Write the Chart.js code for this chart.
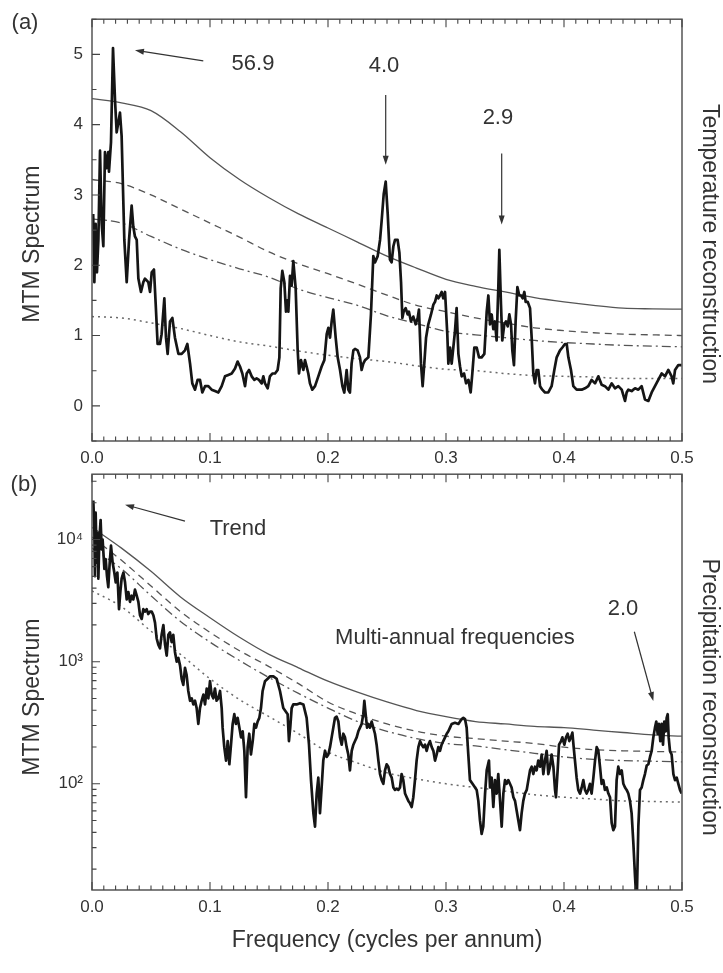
<!DOCTYPE html>
<html>
<head>
<meta charset="utf-8">
<title>MTM spectra</title>
<script src="https://cdn.jsdelivr.net/npm/chart.js@4.4.1/dist/chart.umd.min.js"></script>
<style>
  html, body { margin: 0; padding: 0; background: #fff; }
  #wrap { position: relative; width: 723px; height: 973px; }
  canvas { position: absolute; left: 0; }
  #tempCanvas { top: 0; }
  #precipCanvas { top: 455px; }
</style>
</head>
<body>
<div id="wrap">
  <canvas id="tempCanvas" width="723" height="475"></canvas>
  <canvas id="precipCanvas" width="723" height="518"></canvas>
</div>
<script>
// tick labels
const freqTicks = [0, 0.1, 0.2, 0.3, 0.4, 0.5];
const freqTickLabels = ['0.0', '0.1', '0.2', '0.3', '0.4', '0.5'];
const tempTicks = [0, 1, 2, 3, 4, 5];
const tempTickLabels = ['0', '1', '2', '3', '4', '5'];
const precipTicks = [100, 1000, 10000];
const precipTickLabels = ['10²', '10³', '10⁴'];

// (a) temperature reconstruction: [frequency, MTM spectrum]
const tempSpectrum = [
  [0.001,2.73],[0.002,1.76],[0.0031,2.59],[0.0042,1.90],[0.0054,2.36],[0.0068,3.63],[0.0082,2.59],[0.0096,2.27],
  [0.011,3.61],[0.0124,3.38],[0.0138,3.61],[0.0144,3.33],[0.0161,3.75],[0.0178,5.09],[0.0195,4.35],[0.0209,3.89],
  [0.0223,4.03],[0.0237,4.17],[0.0251,3.84],[0.0274,2.36],[0.0294,1.76],[0.0314,2.36],[0.0336,2.85],[0.035,2.55],
  [0.0364,2.41],[0.0379,2.36],[0.0393,1.81],[0.0415,1.62],[0.0435,1.76],[0.0449,1.81],[0.0477,1.76],[0.0492,1.62],
  [0.0506,1.90],[0.0525,1.94],[0.054,1.44],[0.0556,0.88],[0.0576,0.88],[0.059,1.02],[0.0613,1.53],[0.0627,0.97],
  [0.0641,0.74],[0.0661,1.20],[0.0681,1.25],[0.0703,0.97],[0.0732,0.74],[0.076,0.74],[0.0788,0.79],[0.0808,0.88],
  [0.0831,0.60],[0.085,0.32],[0.0873,0.23],[0.0895,0.37],[0.0915,0.37],[0.0935,0.19],[0.0958,0.28],[0.0986,0.28],
  [0.1014,0.23],[0.1042,0.21],[0.1071,0.19],[0.1099,0.28],[0.1127,0.42],[0.1155,0.44],[0.1184,0.46],[0.1212,0.53],
  [0.1234,0.63],[0.1254,0.56],[0.1274,0.46],[0.1297,0.28],[0.1311,0.46],[0.1331,0.51],[0.1353,0.42],[0.1376,0.37],
  [0.1395,0.39],[0.1415,0.37],[0.1438,0.32],[0.1452,0.42],[0.1466,0.32],[0.1489,0.25],[0.1508,0.42],[0.1528,0.46],
  [0.1551,0.46],[0.1573,0.51],[0.1588,0.69],[0.1599,1.67],[0.1613,1.92],[0.163,1.76],[0.1644,1.34],[0.1655,1.50],
  [0.1664,1.34],[0.1678,1.85],[0.1692,1.71],[0.1706,2.06],[0.1726,1.67],[0.1743,0.79],[0.1754,0.46],[0.1771,0.65],
  [0.1791,0.51],[0.1805,0.65],[0.1819,0.56],[0.1833,0.46],[0.1847,0.32],[0.1867,0.23],[0.189,0.28],[0.1918,0.42],
  [0.1946,0.56],[0.1969,0.65],[0.1989,1.02],[0.2003,1.11],[0.2017,0.97],[0.2031,1.20],[0.2045,1.37],[0.2065,0.97],
  [0.2082,0.69],[0.2102,0.51],[0.2122,0.28],[0.2138,0.19],[0.2158,0.51],[0.2172,0.23],[0.2186,0.19],[0.22,0.60],
  [0.2215,0.79],[0.2229,0.81],[0.2251,0.79],[0.2271,0.69],[0.2285,0.51],[0.2299,0.60],[0.2314,0.65],[0.2342,0.69],
  [0.2364,1.30],[0.2384,2.13],[0.2398,2.04],[0.2421,2.13],[0.2441,2.36],[0.2455,2.64],[0.2472,3.01],[0.2489,3.19],
  [0.2506,2.73],[0.2525,2.08],[0.2539,2.04],[0.2554,2.27],[0.2568,2.36],[0.259,2.36],[0.2605,2.18],[0.2619,1.76],
  [0.263,1.25],[0.2641,1.34],[0.2658,1.39],[0.2675,1.30],[0.2686,1.34],[0.2703,1.20],[0.2723,1.27],[0.2743,1.16],
  [0.276,1.25],[0.2771,1.37],[0.2788,0.60],[0.2802,0.28],[0.2816,0.60],[0.2831,0.97],[0.285,1.16],[0.2873,1.30],
  [0.2893,1.44],[0.2907,1.48],[0.2921,1.57],[0.2935,1.53],[0.2949,1.57],[0.2963,1.62],[0.2977,1.53],[0.2992,1.62],
  [0.3011,1.02],[0.302,0.60],[0.3034,0.83],[0.3048,0.60],[0.3062,0.83],[0.3076,1.06],[0.309,1.39],[0.3105,0.74],
  [0.3119,0.56],[0.3133,0.42],[0.3153,0.46],[0.317,0.32],[0.319,0.37],[0.3209,0.19],[0.3223,0.46],[0.324,0.83],
  [0.326,0.83],[0.328,0.69],[0.3302,0.69],[0.3325,0.74],[0.3345,1.34],[0.3359,1.57],[0.3373,1.16],[0.3387,1.30],
  [0.3401,1.09],[0.3415,1.20],[0.3429,0.93],[0.3443,1.67],[0.3452,2.22],[0.3466,1.44],[0.3477,0.93],[0.3494,1.16],
  [0.3508,1.20],[0.3523,1.13],[0.3537,1.30],[0.3551,1.16],[0.3562,0.79],[0.3576,0.58],[0.359,1.20],[0.3605,1.69],
  [0.3621,1.57],[0.3636,1.57],[0.365,1.53],[0.3664,1.62],[0.3675,1.48],[0.3692,1.48],[0.3712,1.39],[0.3726,0.97],
  [0.374,0.46],[0.3754,0.32],[0.3768,0.51],[0.3782,0.51],[0.3797,0.28],[0.3816,0.23],[0.3839,0.19],[0.3867,0.19],
  [0.3895,0.28],[0.3918,0.51],[0.3938,0.69],[0.3966,0.79],[0.3986,0.83],[0.4008,0.88],[0.4023,0.88],[0.4037,0.69],
  [0.4059,0.51],[0.4079,0.28],[0.4107,0.23],[0.415,0.23],[0.4178,0.25],[0.4206,0.28],[0.4234,0.37],[0.4263,0.32],
  [0.4291,0.42],[0.4319,0.30],[0.4347,0.28],[0.4376,0.23],[0.4404,0.32],[0.4432,0.25],[0.446,0.28],[0.4489,0.23],
  [0.4517,0.07],[0.4531,0.19],[0.4545,0.23],[0.4573,0.21],[0.4602,0.25],[0.463,0.23],[0.4658,0.28],[0.4686,0.09],
  [0.4715,0.07],[0.4743,0.19],[0.4771,0.28],[0.4799,0.37],[0.4828,0.46],[0.4856,0.42],[0.4884,0.51],[0.4912,0.42],
  [0.4926,0.32],[0.4941,0.51],[0.4969,0.58],[0.4997,0.58]
];

// (b) precipitation reconstruction: [frequency, log10 of MTM spectrum]
const precipSpectrumLog10 = [
  [0.0011,4.32],[0.002,4.08],[0.0025,3.70],[0.0031,4.22],[0.004,3.81],[0.0048,4.05],[0.0054,3.68],[0.0062,4.00],
  [0.0073,4.16],[0.0082,3.92],[0.009,4.00],[0.0105,3.76],[0.0116,3.84],[0.0127,3.70],[0.0138,3.61],[0.015,3.81],
  [0.0161,3.95],[0.0175,3.81],[0.0189,3.73],[0.0201,3.65],[0.0215,3.73],[0.0229,3.43],[0.024,3.57],[0.0251,3.68],
  [0.0266,3.73],[0.028,3.65],[0.0294,3.51],[0.0308,3.57],[0.0322,3.49],[0.0336,3.54],[0.035,3.51],[0.0364,3.59],
  [0.0379,3.54],[0.0393,3.49],[0.0407,3.38],[0.0421,3.35],[0.0435,3.43],[0.0449,3.41],[0.0463,3.43],[0.0477,3.39],
  [0.0492,3.41],[0.0506,3.41],[0.052,3.38],[0.0534,3.32],[0.0548,3.19],[0.0562,3.14],[0.0576,3.11],[0.059,3.22],
  [0.0605,3.30],[0.0619,3.14],[0.0633,3.05],[0.0647,3.22],[0.0661,3.24],[0.0675,3.16],[0.0689,3.22],[0.0703,3.08],
  [0.0718,3.00],[0.0732,3.03],[0.0746,2.97],[0.076,2.86],[0.0774,2.81],[0.0788,2.95],[0.0802,2.89],[0.0816,2.76],
  [0.0831,2.68],[0.0845,2.70],[0.0859,2.65],[0.0873,2.68],[0.0887,2.62],[0.0901,2.49],[0.0915,2.62],[0.0929,2.68],
  [0.0944,2.73],[0.0958,2.65],[0.0972,2.78],[0.0986,2.70],[0.1,2.84],[0.1014,2.73],[0.1028,2.70],[0.1042,2.78],
  [0.1056,2.68],[0.1071,2.70],[0.1085,2.76],[0.1099,2.62],[0.1107,2.46],[0.1121,2.30],[0.1136,2.19],[0.115,2.35],
  [0.1164,2.16],[0.1178,2.32],[0.1192,2.49],[0.1206,2.57],[0.122,2.49],[0.1234,2.54],[0.1249,2.46],[0.1263,2.38],
  [0.1277,2.43],[0.1291,2.27],[0.1305,1.89],[0.1319,2.30],[0.1333,2.41],[0.1347,2.24],[0.1362,2.35],[0.1376,2.49],
  [0.139,2.46],[0.1404,2.51],[0.1418,2.54],[0.1432,2.62],[0.1446,2.76],[0.1466,2.84],[0.1489,2.86],[0.1508,2.88],
  [0.1537,2.88],[0.1565,2.86],[0.1593,2.76],[0.1621,2.62],[0.1658,2.57],[0.1669,2.35],[0.168,2.46],[0.1692,2.62],
  [0.1706,2.65],[0.1734,2.65],[0.1763,2.66],[0.1791,2.65],[0.1819,2.54],[0.1839,2.32],[0.1856,2.03],[0.1876,1.76],
  [0.189,1.65],[0.1904,1.92],[0.1918,2.05],[0.1932,1.76],[0.1946,1.97],[0.196,2.19],[0.1975,2.27],[0.1989,2.22],
  [0.2003,2.24],[0.2017,2.30],[0.2031,2.38],[0.2045,2.46],[0.2059,2.54],[0.2073,2.55],[0.2088,2.51],[0.2102,2.38],
  [0.2116,2.32],[0.213,2.41],[0.2144,2.38],[0.2158,2.30],[0.2172,2.24],[0.2186,2.11],[0.2201,2.27],[0.2215,2.32],
  [0.2229,2.35],[0.2243,2.38],[0.2257,2.43],[0.2271,2.46],[0.2285,2.49],[0.2299,2.57],[0.2308,2.68],[0.2319,2.57],
  [0.2331,2.46],[0.2342,2.49],[0.2356,2.46],[0.237,2.51],[0.2384,2.46],[0.2398,2.41],[0.2412,2.32],[0.2427,2.19],
  [0.2441,2.08],[0.2455,2.03],[0.2469,2.00],[0.2483,2.11],[0.2497,2.16],[0.2511,2.14],[0.2525,2.08],[0.254,2.05],
  [0.2554,1.97],[0.2568,1.95],[0.2582,1.96],[0.2596,1.95],[0.261,1.97],[0.2624,2.08],[0.2638,2.03],[0.2653,1.92],
  [0.2667,1.89],[0.2681,1.86],[0.2695,1.84],[0.2709,1.81],[0.2723,1.89],[0.2737,2.03],[0.2751,2.19],[0.2766,2.30],
  [0.278,2.35],[0.2794,2.32],[0.2808,2.30],[0.2822,2.32],[0.2836,2.27],[0.285,2.32],[0.2864,2.35],[0.2879,2.30],
  [0.2893,2.27],[0.2907,2.19],[0.2921,2.24],[0.2935,2.30],[0.2949,2.27],[0.2963,2.32],[0.2977,2.35],[0.2992,2.38],
  [0.3006,2.41],[0.302,2.43],[0.3034,2.46],[0.3048,2.49],[0.3076,2.50],[0.3105,2.49],[0.3133,2.53],[0.3147,2.54],
  [0.3161,2.53],[0.3175,2.46],[0.3189,2.24],[0.3203,2.03],[0.3232,1.99],[0.326,1.95],[0.3274,1.86],[0.3288,1.70],
  [0.3302,1.59],[0.3316,1.65],[0.3331,1.92],[0.3345,2.11],[0.3364,2.19],[0.3373,1.97],[0.3387,2.05],[0.3401,1.81],
  [0.3415,2.03],[0.3429,1.92],[0.3443,2.08],[0.3458,1.86],[0.3472,1.65],[0.3486,1.92],[0.35,2.03],[0.3514,2.00],
  [0.3528,2.03],[0.3542,2.00],[0.3556,1.97],[0.3571,1.89],[0.3585,1.86],[0.3599,1.78],[0.3613,1.70],[0.3627,1.62],
  [0.3641,1.76],[0.3655,1.86],[0.3669,1.92],[0.3684,1.95],[0.3698,2.03],[0.3712,2.11],[0.3726,2.14],[0.374,2.08],
  [0.3754,2.14],[0.3768,2.11],[0.3782,2.19],[0.3797,2.14],[0.3811,2.24],[0.3825,2.08],[0.3839,2.19],[0.3853,2.27],
  [0.3867,2.08],[0.3881,2.14],[0.3895,2.24],[0.391,2.14],[0.3924,1.95],[0.3932,1.89],[0.3946,2.11],[0.3958,2.32],
  [0.3975,2.35],[0.3986,2.38],[0.4003,2.32],[0.4017,2.38],[0.4031,2.41],[0.4045,2.35],[0.4059,2.38],[0.4071,2.42],
  [0.4082,2.30],[0.4093,2.19],[0.4107,2.05],[0.4121,1.95],[0.4136,1.92],[0.415,1.97],[0.4164,2.03],[0.4178,1.95],
  [0.4192,1.92],[0.4206,1.95],[0.422,2.00],[0.4234,1.92],[0.4249,2.05],[0.4263,2.19],[0.4277,2.30],[0.4291,2.27],
  [0.4305,2.14],[0.4319,2.00],[0.4333,2.03],[0.4347,1.95],[0.4362,1.97],[0.4376,1.92],[0.439,1.89],[0.4404,1.68],
  [0.4418,1.62],[0.4432,1.65],[0.4446,2.03],[0.446,2.14],[0.4475,2.08],[0.4489,2.11],[0.4503,2.00],[0.4517,1.97],
  [0.4531,1.95],[0.4545,1.92],[0.4559,1.86],[0.4573,1.76],[0.4588,1.51],[0.4602,1.24],[0.4616,1.00],[0.463,1.65],
  [0.4644,1.95],[0.4658,1.97],[0.4672,2.03],[0.4686,2.08],[0.4701,2.15],[0.4715,2.16],[0.4729,2.22],[0.4743,2.27],
  [0.4757,2.38],[0.4771,2.46],[0.4782,2.51],[0.4794,2.41],[0.4805,2.49],[0.4816,2.35],[0.4828,2.49],[0.4839,2.32],
  [0.485,2.51],[0.4862,2.43],[0.487,2.54],[0.4879,2.57],[0.4887,2.38],[0.4898,2.27],[0.4912,2.24],[0.4927,2.08],
  [0.4941,2.03],[0.4955,2.05],[0.4969,2.00],[0.4983,1.95],[0.4997,1.92]
];

// reference (significance) curves, sampled every 0.025 cycles per annum
const refFreq = [0, 0.025, 0.05, 0.075, 0.1, 0.125, 0.15, 0.175, 0.2, 0.225, 0.25,
                 0.275, 0.3, 0.325, 0.35, 0.375, 0.4, 0.425, 0.45, 0.475, 0.5];
const tempSolid   = [4.37,4.31,4.20,3.90,3.53,3.22,2.96,2.73,2.53,2.33,2.13,1.96,1.80,1.70,1.62,1.54,1.48,1.43,1.39,1.38,1.375];
const tempDashed  = [3.22,3.16,3.00,2.80,2.60,2.40,2.19,2.02,1.88,1.73,1.575,1.43,1.34,1.25,1.18,1.11,1.07,1.04,1.02,1.01,1.00];
const tempDashDot = [2.66,2.60,2.41,2.23,2.08,1.95,1.83,1.66,1.54,1.43,1.28,1.17,1.06,1.01,0.97,0.93,0.90,0.88,0.86,0.85,0.84];
const tempDotted  = [1.27,1.25,1.18,1.10,1.00,0.91,0.85,0.78,0.72,0.67,0.63,0.57,0.52,0.50,0.46,0.43,0.42,0.41,0.39,0.39,0.39];

const precipSolidLog10   = [4.10,3.93,3.74,3.53,3.36,3.20,3.06,2.95,2.84,2.75,2.67,2.60,2.55,2.51,2.49,2.47,2.46,2.44,2.42,2.40,2.39];
const precipDashedLog10  = [4.02,3.83,3.62,3.41,3.24,3.09,2.96,2.82,2.67,2.57,2.49,2.43,2.39,2.37,2.35,2.33,2.30,2.28,2.27,2.265,2.26];
const precipDashDotLog10 = [3.93,3.76,3.54,3.33,3.16,3.01,2.87,2.74,2.62,2.51,2.43,2.37,2.33,2.31,2.28,2.25,2.22,2.20,2.19,2.185,2.18];
const precipDottedLog10  = [3.58,3.45,3.25,3.06,2.86,2.69,2.55,2.41,2.26,2.17,2.09,2.04,2.00,1.97,1.94,1.91,1.89,1.875,1.86,1.855,1.85];

Chart.defaults.font.family = '"Liberation Sans", Arial, Helvetica, sans-serif';
Chart.defaults.color = '#333';

const FONT_BIG = '23px "Liberation Sans", Arial, sans-serif';
const FONT_NOTE = '22px "Liberation Sans", Arial, sans-serif';

function spectrumSet(points) {
  return { data: points, borderColor: '#151515', borderWidth: 2.7, pointRadius: 0,
           tension: 0, borderJoinStyle: 'round' };
}
function refSet(values, dash, toY) {
  const dotted = dash.length && dash[0] <= 2;
  return {
    data: refFreq.map((f, i) => ({ x: f, y: toY(values[i]) })),
    borderColor: dotted ? '#6a6a6a' : '#555',
    borderWidth: dotted ? 1.5 : 1.3,
    borderDash: dash, pointRadius: 0, cubicInterpolationMode: 'monotone'
  };
}
const same = v => v;
const fromLog = e => Math.pow(10, e);

// frame, inward ticks, rotated side titles, arrows and notes
const framePlugin = {
  id: 'frame',
  afterDatasetsDraw(chart, args, o) {
    const { ctx, chartArea: a } = chart;
    const xs = chart.scales.x, ys = chart.scales.y;
    ctx.save();
    ctx.strokeStyle = '#555';
    ctx.lineWidth = 1.5;
    ctx.strokeRect(a.left, a.top, a.right - a.left, a.bottom - a.top);

    ctx.strokeStyle = '#444';
    ctx.lineWidth = 1.1;
    ctx.beginPath();
    for (let i = 0; i <= 50; i++) {
      const px = xs.getPixelForValue(i / 100);
      const len = i % 10 === 0 ? 8 : 4.5;
      ctx.moveTo(px, a.bottom); ctx.lineTo(px, a.bottom - len);
      ctx.moveTo(px, a.top); ctx.lineTo(px, a.top + len);
    }
    o.yTicks.forEach(t => {
      const py = ys.getPixelForValue(t.v);
      if (py < a.top - 0.5 || py > a.bottom + 0.5) return;
      ctx.moveTo(a.left, py); ctx.lineTo(a.left + (t.major ? 8 : 4.5), py);
    });
    ctx.stroke();

    // arrows (tail -> head)
    ctx.strokeStyle = '#333';
    ctx.fillStyle = '#333';
    ctx.lineWidth = 1.2;
    o.arrows.forEach(([x1, y1, x2, y2]) => {
      const ax = xs.getPixelForValue(x1), ay = ys.getPixelForValue(y1);
      const bx = xs.getPixelForValue(x2), by = ys.getPixelForValue(y2);
      const ang = Math.atan2(by - ay, bx - ax);
      const c = Math.cos(ang), s = Math.sin(ang);
      ctx.beginPath();
      ctx.moveTo(ax, ay); ctx.lineTo(bx - 6 * c, by - 6 * s);
      ctx.stroke();
      ctx.beginPath();
      ctx.moveTo(bx, by);
      ctx.lineTo(bx - 9 * c + 3 * s, by - 9 * s - 3 * c);
      ctx.lineTo(bx - 9 * c - 3 * s, by - 9 * s + 3 * c);
      ctx.closePath();
      ctx.fill();
    });

    ctx.font = FONT_NOTE;
    ctx.textAlign = 'center';
    ctx.textBaseline = 'middle';
    o.notes.forEach(n => {
      ctx.fillText(n.text, xs.getPixelForValue(n.x), ys.getPixelForValue(n.y));
    });

    ctx.fillText(o.panel, o.panelAt[0], o.panelAt[1]);

    const cy = (a.top + a.bottom) / 2 + o.titleShift;
    ctx.font = FONT_BIG;
    ctx.save();
    ctx.translate(33, cy);
    ctx.rotate(-Math.PI / 2);
    ctx.fillText(o.leftTitle, 0, 0);
    ctx.restore();
    ctx.save();
    ctx.translate(709, cy);
    ctx.rotate(Math.PI / 2);
    ctx.fillText(o.rightTitle, 0, 0);
    ctx.restore();
    ctx.restore();
  }
};

function xScale(height, title) {
  return {
    type: 'linear', min: 0, max: 0.5,
    afterBuildTicks: s => { s.ticks = freqTicks.map(v => ({ value: v })); },
    ticks: {
      padding: 7, font: { size: 17 }, color: '#333', autoSkip: false, maxRotation: 0,
      callback: v => freqTickLabels[freqTicks.findIndex(t => Math.abs(t - v) < 1e-9)] ?? ''
    },
    grid: { display: false, drawTicks: false },
    border: { display: false },
    title: title ? { display: true, text: title, font: { size: 23 }, color: '#333',
                     padding: { top: 0, bottom: 19 } } : { display: false },
    afterFit: s => { s.height = height; }
  };
}
const rightScale = {
  position: 'right', type: 'linear',
  ticks: { display: false }, grid: { display: false, drawTicks: false },
  border: { display: false },
  afterFit: s => { s.width = 41; }
};

const tempYTicks = [];
for (let v = -0.5; v <= 5.5; v += 0.5) tempYTicks.push({ v, major: Number.isInteger(v) });
const precipYTicks = [];
[10, 100, 1000, 10000].forEach(d => {
  for (let k = 1; k <= 9; k++) precipYTicks.push({ v: k * d, major: k === 1 });
});

new Chart(document.getElementById('tempCanvas'), {
  type: 'line',
  data: {
    datasets: [
      spectrumSet(tempSpectrum.map(([x, y]) => ({ x, y }))),
      refSet(tempSolid, [], same),
      refSet(tempDashed, [7, 5], same),
      refSet(tempDashDot, [9, 4, 2, 4], same),
      refSet(tempDotted, [2, 4], same)
    ]
  },
  options: {
    responsive: false, animation: false, events: [],
    layout: { padding: { top: 7, left: 0, right: 0, bottom: 0 } },
    plugins: {
      legend: { display: false }, tooltip: { enabled: false },
      frame: {
        yTicks: tempYTicks,
        panel: '(a)', panelAt: [25, 23], titleShift: 14,
        leftTitle: 'MTM Spectrum', rightTitle: 'Temperature reconstruction',
        notes: [
          { text: '56.9', x: 0.1364, y: 4.86 },
          { text: '4.0', x: 0.2475, y: 4.84 },
          { text: '2.9', x: 0.344, y: 4.10 }
        ],
        arrows: [
          [0.0943, 4.906, 0.0364, 5.058],
          [0.2489, 4.42, 0.2489, 3.43],
          [0.3472, 3.59, 0.3472, 2.58]
        ]
      }
    },
    scales: {
      x: xScale(34, null),
      y: {
        type: 'linear', min: -0.5, max: 5.5,
        afterBuildTicks: s => { s.ticks = tempTicks.map(v => ({ value: v })); },
        ticks: {
          padding: 9, font: { size: 17 }, color: '#333', autoSkip: false,
          callback: v => tempTickLabels[tempTicks.indexOf(v)] ?? ''
        },
        grid: { display: false, drawTicks: false },
        border: { display: false },
        afterFit: s => { s.width = 92; }
      },
      y2: rightScale
    }
  },
  plugins: [framePlugin]
});

new Chart(document.getElementById('precipCanvas'), {
  type: 'line',
  data: {
    datasets: [
      spectrumSet(precipSpectrumLog10.map(([x, e]) => ({ x, y: fromLog(e) }))),
      refSet(precipSolidLog10, [], fromLog),
      refSet(precipDashedLog10, [7, 5], fromLog),
      refSet(precipDashDotLog10, [9, 4, 2, 4], fromLog),
      refSet(precipDottedLog10, [2, 4], fromLog)
    ]
  },
  options: {
    responsive: false, animation: false, events: [],
    layout: { padding: { top: 16, left: 0, right: 0, bottom: 0 } },
    plugins: {
      legend: { display: false }, tooltip: { enabled: false },
      frame: {
        yTicks: precipYTicks,
        panel: '(b)', panelAt: [24, 30], titleShift: 15,
        leftTitle: 'MTM Spectrum', rightTitle: 'Precipitation reconstruction',
        notes: [
          { text: 'Trend', x: 0.1237, y: 12110 },
          { text: 'Multi-annual frequencies', x: 0.3076, y: 1552 },
          { text: '2.0', x: 0.45, y: 2716 }
        ],
        arrows: [
          [0.0788, 14160, 0.028, 19320],
          [0.4596, 1758, 0.4757, 476]
        ]
      }
    },
    scales: {
      x: xScale(83, 'Frequency (cycles per annum)'),
      y: {
        type: 'logarithmic', min: 13.5, max: 34300,
        afterBuildTicks: s => { s.ticks = precipTicks.map(v => ({ value: v })); },
        ticks: {
          padding: 9, font: { size: 17 }, color: '#333', autoSkip: false,
          callback: v => precipTickLabels[precipTicks.indexOf(v)] ?? ''
        },
        grid: { display: false, drawTicks: false },
        border: { display: false },
        afterFit: s => { s.width = 92; }
      },
      y2: rightScale
    }
  },
  plugins: [framePlugin]
});
</script>
</body>
</html>
